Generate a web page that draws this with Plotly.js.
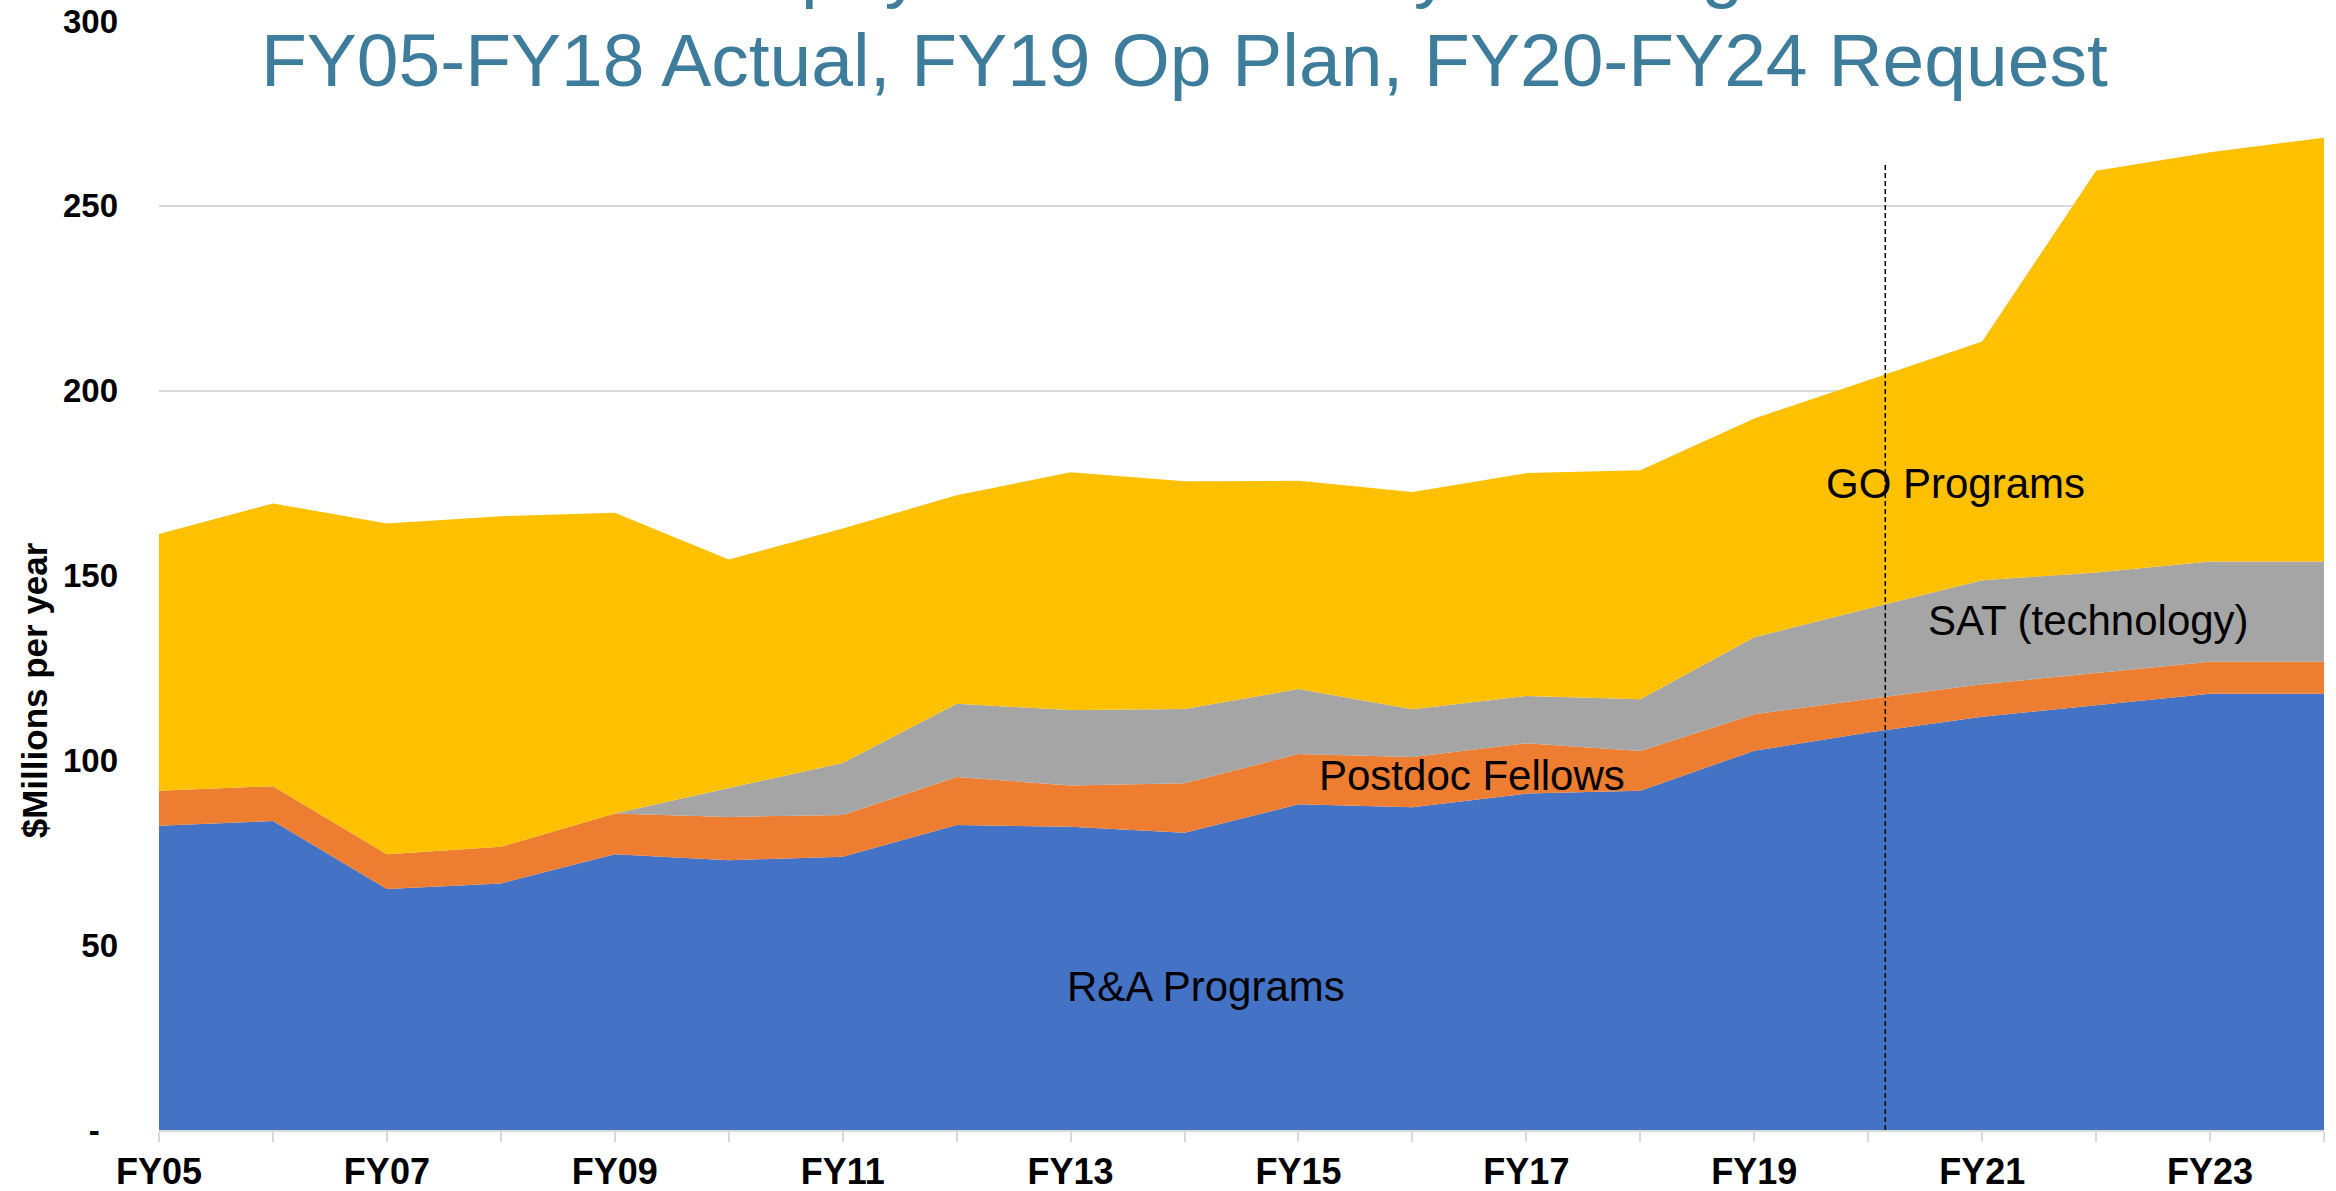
<!DOCTYPE html>
<html>
<head>
<meta charset="utf-8">
<script src="https://cdn.plot.ly/plotly-3.0.1.min.js"></script>
<style>
  html, body { margin: 0; padding: 0; background: #fff; }
  #chart { width: 2336px; height: 1191px; }
</style>
</head>
<body>
<div id="chart"></div>
<script>
// fiscal years on the x axis
let fyLabels = ['FY05', 'FY06', 'FY07', 'FY08', 'FY09', 'FY10', 'FY11', 'FY12', 'FY13', 'FY14',
                'FY15', 'FY16', 'FY17', 'FY18', 'FY19', 'FY20', 'FY21', 'FY22', 'FY23', 'FY24'];

// $M per year
let raPrograms     = [82.3, 83.6, 65.2, 66.7, 74.6, 73.0, 73.9, 82.5, 82.0, 80.4, 88.1, 87.3, 91.0, 91.8, 102.6, 107.5, 111.8, 114.9, 118.0, 118.0];
let postdocFellows = [9.5, 9.4, 9.4, 9.9, 11.0, 11.7, 11.3, 13.0, 11.2, 13.4, 13.6, 13.6, 13.6, 10.7, 9.9, 9.1, 8.8, 8.7, 8.7, 8.7];
let satTechnology  = [0, 0, 0, 0, 0, 7.8, 14.1, 19.8, 20.4, 20.1, 17.6, 12.9, 12.8, 14.0, 20.8, 24.5, 28.1, 27.2, 27.1, 27.1];
let goPrograms     = [69.4, 76.5, 89.5, 89.4, 81.4, 61.8, 63.4, 56.4, 64.3, 61.6, 56.3, 58.8, 60.3, 62.0, 59.2, 61.7, 64.6, 108.7, 110.7, 114.6];

// y axis ticks (zero shown as accounting dash)
let yTickVals = [0, 50, 100, 150, 200, 250, 300];
let yTickText = ['-\u00a0\u00a0', '50', '100', '150', '200', '250', '300'];

// only every other year gets a label
let xTickText = fyLabels.map((l, i) => (i % 2 === 0 ? l : ''));

let font = 'Liberation Sans, Arial, sans-serif';

function areaTrace(name, values, color) {
    return {
        x: fyLabels,
        y: values,
        name: name,
        type: 'scatter',
        mode: 'none',
        stackgroup: 'one',
        fillcolor: color,
        hoverinfo: 'none'
    };
}

let traces = [
    areaTrace('R&A Programs', raPrograms, '#4472C4'),
    areaTrace('Postdoc Fellows', postdocFellows, '#ED7D31'),
    areaTrace('SAT (technology)', satTechnology, '#A5A5A5'),
    areaTrace('GO Programs', goPrograms, '#FFC000')
];

function label(text, x, y) {
    return {
        text: text, x: x, y: y, xref: 'x', yref: 'y',
        showarrow: false, xanchor: 'center', yanchor: 'middle',
        font: { family: font, size: 42, color: '#000' }
    };
}

let layout = {
    width: 2336,
    height: 1191,
    margin: { l: 159, r: 12, t: 21, b: 61, pad: 0 },
    paper_bgcolor: '#fff',
    plot_bgcolor: '#fff',
    showlegend: false,
    xaxis: {
        type: 'category',
        range: [0, fyLabels.length - 1],
        tickmode: 'array',
        tickvals: fyLabels,
        ticktext: xTickText,
        ticks: 'outside',
        ticklen: 10,
        tickwidth: 2,
        tickcolor: '#D9D9D9',
        ticklabelstandoff: -1,
        showline: true,
        linecolor: '#D9D9D9',
        linewidth: 2,
        showgrid: false,
        zeroline: false,
        fixedrange: true,
        tickfont: { family: font, size: 36, color: '#000', weight: 'bold' }
    },
    yaxis: {
        range: [0, 300],
        tickmode: 'array',
        tickvals: yTickVals,
        ticktext: yTickText,
        ticks: '',
        ticklabelstandoff: 40,
        showgrid: true,
        gridcolor: '#D9D9D9',
        gridwidth: 2,
        zeroline: false,
        showline: false,
        fixedrange: true,
        tickfont: { family: font, size: 33, color: '#000', weight: 'bold' }
    },
    shapes: [{
        type: 'line', xref: 'x', yref: 'y',
        x0: 15.15, x1: 15.15, y0: 0, y1: 261.8,
        layer: 'above',
        line: { color: '#000', width: 1.5, dash: '5px,3px' }
    }],
    annotations: [
        {
            text: 'Astrophysics Community Funding',
            xref: 'paper', yref: 'paper', x: 0.4737, y: 1.0475,
            xanchor: 'center', yanchor: 'middle', showarrow: false,
            font: { family: font, size: 75, color: '#3E7C9C' }
        },
        {
            text: 'FY05-FY18 Actual, FY19 Op Plan, FY20-FY24 Request',
            xref: 'paper', yref: 'paper', x: 0.4737, y: 0.9646,
            xanchor: 'center', yanchor: 'middle', showarrow: false,
            font: { family: font, size: 75, color: '#3E7C9C' }
        },
        {
            text: '$Millions per year',
            xref: 'paper', yref: 'paper', x: -0.0577, y: 0.3966,
            xanchor: 'center', yanchor: 'middle', showarrow: false, textangle: -90,
            font: { family: font, size: 35, color: '#000', weight: 'bold' }
        },
        label('R&A Programs', 9.19, 38.9),
        label('Postdoc Fellows', 11.52, 95.9),
        label('SAT (technology)', 16.93, 137.8),
        label('GO Programs', 15.77, 175.0)
    ]
};

Plotly.newPlot('chart', traces, layout, { displayModeBar: false, staticPlot: true });
</script>
</body>
</html>
